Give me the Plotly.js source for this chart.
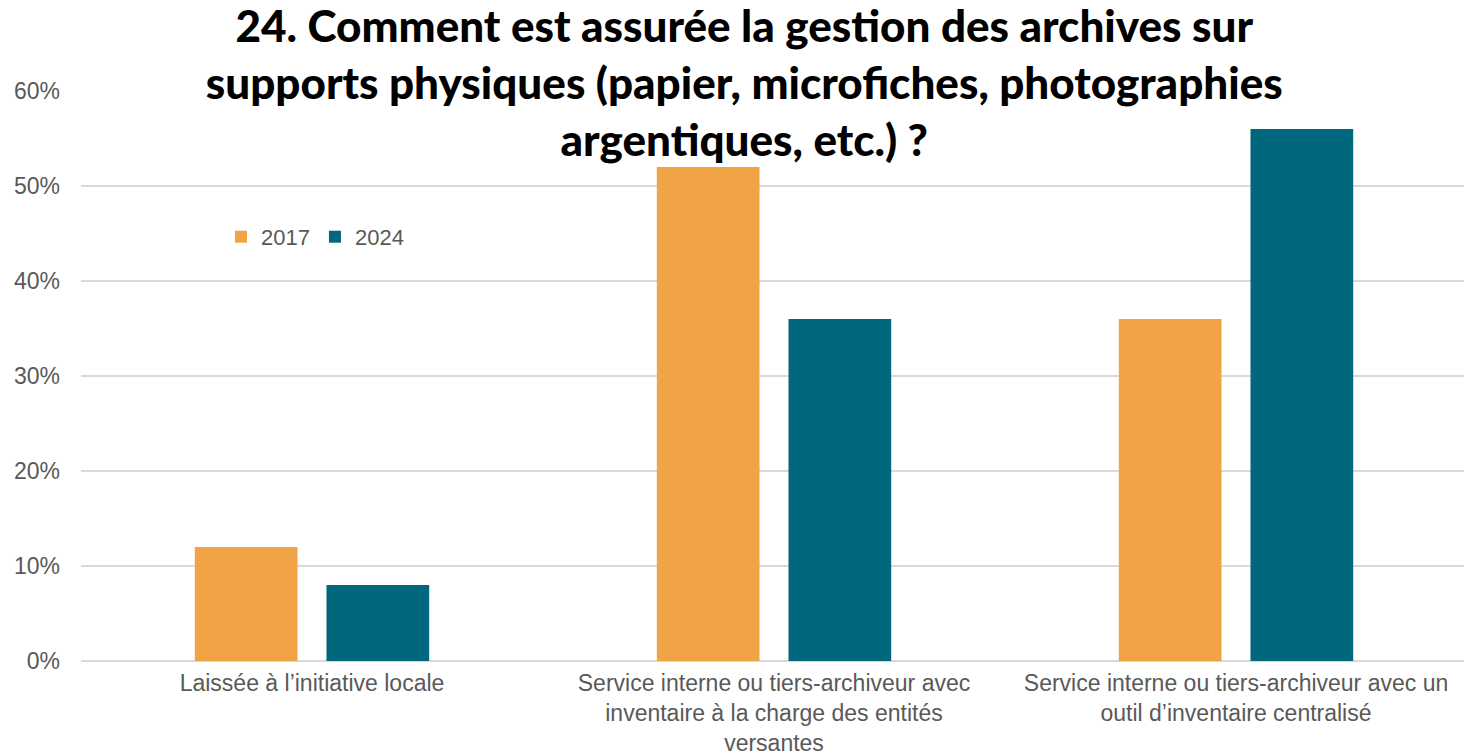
<!DOCTYPE html>
<html>
<head>
<meta charset="utf-8">
<script src="https://cdn.plot.ly/plotly-3.0.1.min.js"></script>
<style>
  html, body { margin: 0; padding: 0; overflow: hidden; background: #fff; }
</style>
</head>
<body>
<div id="chart"></div>
<script>
// categories and values (share of respondents)
var categories = [
  'Laissée à l’initiative locale',
  'Service interne ou tiers-archiveur avec<br>inventaire à la charge des entités<br>versantes',
  'Service interne ou tiers-archiveur avec un<br>outil d’inventaire centralisé'
];
var values2017 = [0.12, 0.52, 0.36];
var values2024 = [0.08, 0.36, 0.56];

var traces = [
  {
    x: categories,
    y: values2017,
    name: '2017',
    type: 'bar',
    marker: { color: '#F0A446' },
    hoverinfo: 'y'
  },
  {
    x: categories,
    y: values2024,
    name: '2024',
    type: 'bar',
    marker: { color: '#00677D' },
    hoverinfo: 'y'
  }
];

var layout = {
  width: 1468,
  height: 755,
  margin: { l: 81, r: 1, t: 91, b: 94 },
  paper_bgcolor: '#fff',
  plot_bgcolor: '#fff',
  barmode: 'group',
  bargap: 0.43,
  bargroupgap: 0.22,
  title: {
    text: '24. Comment est assurée la gestion des archives sur<br>supports physiques (papier, microfiches, photographies<br>argentiques, etc.) ?',
    font: { family: 'Lato, "Noto Sans", sans-serif', size: 44, color: '#000', weight: 900 },
    x: 0.507,
    xanchor: 'center',
    xref: 'container',
    y: 0.945,
    yanchor: 'middle',
    yref: 'container'
  },
  font: { family: '"Liberation Sans", Arial, sans-serif', color: '#595959', size: 23 },
  xaxis: {
    type: 'category',
    showgrid: false,
    showline: false,
    ticks: '',
    ticklabelstandoff: 6,
    tickfont: { size: 23, color: '#595959' }
  },
  yaxis: {
    range: [0, 0.6],
    dtick: 0.1,
    tickformat: '.0%',
    showgrid: true,
    gridcolor: '#D9D9D9',
    gridwidth: 1.5,
    zeroline: true,
    zerolinecolor: '#D9D9D9',
    zerolinewidth: 2,
    showline: false,
    ticks: '',
    ticklabelstandoff: 20,
    tickfont: { size: 23, color: '#595959' }
  },
  showlegend: true,
  legend: {
    orientation: 'h',
    x: 0.101,
    xanchor: 'left',
    y: 0.744,
    yanchor: 'middle',
    bgcolor: 'rgba(0,0,0,0)',
    font: { size: 22, color: '#595959' }
  }
};

Plotly.newPlot('chart', traces, layout, { displayModeBar: false, staticPlot: true });
</script>
</body>
</html>
